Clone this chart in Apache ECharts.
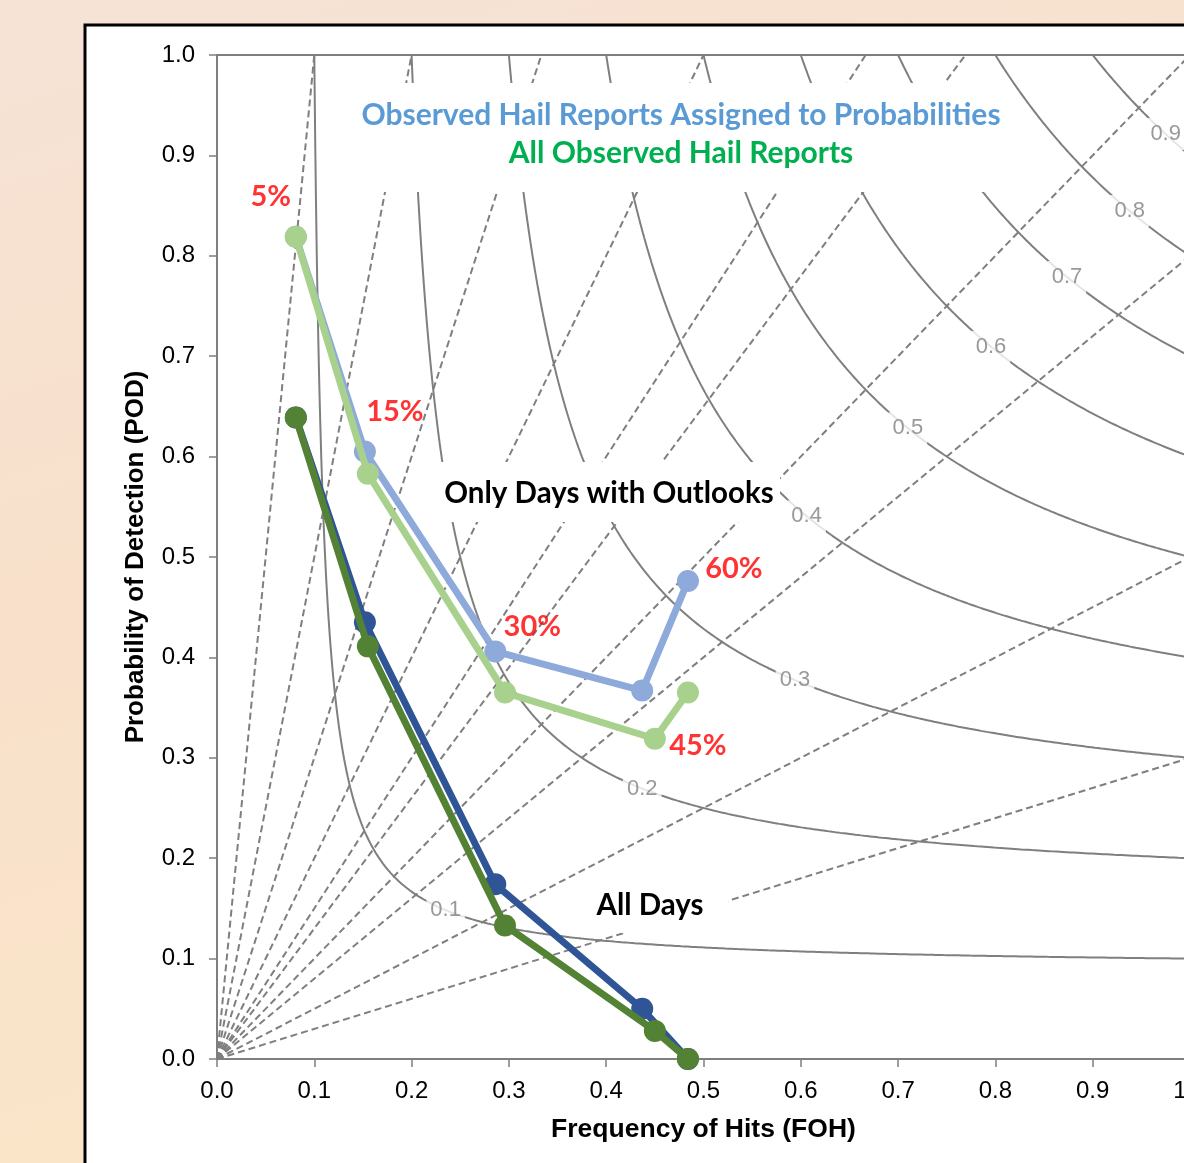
<!DOCTYPE html>
<html><head><meta charset="utf-8">
<script src="https://cdn.jsdelivr.net/npm/echarts@6/dist/echarts.min.js"></script>
<style>html,body{margin:0;padding:0;width:1184px;height:1163px;overflow:hidden}#c{width:1184px;height:1163px}</style>
</head><body><div id="c"></div>
<script>
// ---- data ----
const xTickLabels = ['0.0','0.1','0.2','0.3','0.4','0.5','0.6','0.7','0.8','0.9','1.0'];
const yTickLabels = ['0.0','0.1','0.2','0.3','0.4','0.5','0.6','0.7','0.8','0.9','1.0'];
const probLabels = ['5%','15%','30%','45%','60%'];
// Frequency of hits (x)
const fohAssigned = [0.081, 0.152, 0.286, 0.437, 0.484];
const fohAll      = [0.081, 0.155, 0.296, 0.450, 0.484];
// Probability of detection (y)
const podAssignedOutlook = [0.819, 0.605, 0.406, 0.367, 0.476];
const podAllOutlook      = [0.819, 0.583, 0.365, 0.319, 0.365];
const podAssignedAllDays = [0.639, 0.435, 0.174, 0.050, 0.000];
const podAllAllDays      = [0.639, 0.411, 0.133, 0.028, 0.000];
// background lines of the performance diagram
const csiLevels  = [0.1, 0.2, 0.3, 0.4, 0.5, 0.6, 0.7, 0.8, 0.9];
const csiLabelAt = [0.235, 0.437, 0.594, 0.606, 0.71, 0.7955, 0.8736, 0.938, 0.975];
const biasLevels = [0.3, 0.5, 0.8, 1, 1.3, 1.5, 2, 3, 5, 10];

const GRAY = '#7f7f7f';
const FONT = 'Liberation Sans, Arial, sans-serif';
const CAL = 'Lato, "Open Sans", sans-serif';

const podFromCsi = (c, sr) => 1 / (1 / c + 1 - 1 / sr);
const zip = (xs, ys) => xs.map((x, i) => [x, ys[i]]);

const series = [];
// CSI curves
csiLevels.forEach(c => {
  const pts = [];
  const N = 400;
  for (let i = 0; i <= N; i++) {
    const t = i / N;
    const sr = c + (1 - c) * t * t;
    pts.push([sr, Math.min(1, podFromCsi(c, sr))]);
  }
  series.push({type:'line', data: pts, showSymbol:false, symbol:'none', silent:true, z:1,
    lineStyle:{color:GRAY, width:2}});
});
// bias lines
biasLevels.forEach(b => {
  const end = b >= 1 ? [1 / b, 1] : [1, b];
  series.push({type:'line', data:[[0,0], end], showSymbol:false, symbol:'none', silent:true, z:1,
    lineStyle:{color:GRAY, width:2, type:[7,4]}});
});
// CSI labels
series.push({type:'scatter', z:4, symbolSize:1, itemStyle:{color:'rgba(0,0,0,0)'},
  data: csiLevels.map((c, i) => ({value:[csiLabelAt[i], podFromCsi(c, csiLabelAt[i])], name:String(c)})),
  label:{show:true, position:'inside', formatter: p => p.name, color:GRAY, fontSize:22, fontFamily:FONT,
    backgroundColor:'#ffffff', padding:[5,4]}});
// data series
const mk = (name, xs, ys, color, z) => ({name, type:'line', data: zip(xs, ys), z,
  symbol:'circle', symbolSize:22, lineStyle:{color, width:7}, itemStyle:{color}});
series.push(mk('Assigned (Outlook days)', fohAssigned, podAssignedOutlook, '#8eaadb', 20));
series.push(mk('All reports (Outlook days)', fohAll, podAllOutlook, '#a9d18e', 21));
series.push(mk('Assigned (All days)', fohAssigned, podAssignedAllDays, '#2f5597', 22));
series.push(mk('All reports (All days)', fohAll, podAllAllDays, '#548235', 23));
// probability labels
const pctPts = [
  [fohAll[0], podAllOutlook[0]],
  [fohAssigned[1], podAssignedOutlook[1]],
  [fohAssigned[2], podAssignedOutlook[2]],
  [fohAll[3], podAllOutlook[3]],
  [fohAssigned[4], podAssignedOutlook[4]]
];
const pctOffsets = [[-25,-40],[30,-40],[37,-25],[43,7],[46,-12]];
series.push({type:'scatter', z:30, symbolSize:1, itemStyle:{color:'rgba(0,0,0,0)'},
  data: pctPts.map((p, i) => ({value:p, name:probLabels[i], label:{offset:pctOffsets[i]}})),
  label:{show:true, position:'inside', formatter: p => p.name, color:'#ff0000', fontSize:29,
    fontWeight:'bold', fontFamily:CAL}});

const chart = echarts.init(document.getElementById('c'), null, {renderer:'canvas'});
chart.setOption({
  animation:false,
  backgroundColor:{type:'linear', x:0, y:0, x2:0.3, y2:1, colorStops:[
    {offset:0, color:'#f6e3d6'}, {offset:0.5, color:'#f8e0ca'}, {offset:1, color:'#fbe6c9'}]},
  grid:{left:217, top:55, width:973, height:1004, outerBoundsMode:'none', containLabel:false,
    show:true, borderColor:GRAY, borderWidth:2, backgroundColor:'rgba(0,0,0,0)'},
  xAxis:{type:'value', min:0, max:1, interval:0.1,
    name:'Frequency of Hits (FOH)', nameLocation:'middle', nameGap:57,
    nameTextStyle:{fontFamily:FONT, fontSize:26.5, fontWeight:'bold', color:'#000'},
    axisLine:{show:true, lineStyle:{color:GRAY, width:2}},
    axisTick:{show:true, length:8, lineStyle:{color:GRAY, width:1.5}},
    splitLine:{show:false},
    axisLabel:{formatter: v => xTickLabels[Math.round(v * 10)], color:'#000', fontSize:24, fontFamily:FONT, margin:20, showMaxLabel:true}},
  yAxis:{type:'value', min:0, max:1, interval:0.1,
    name:'Probability of Detection (POD)', nameLocation:'middle', nameGap:68,
    nameTextStyle:{fontFamily:FONT, fontSize:26, fontWeight:'bold', color:'#000'},
    axisLine:{show:true, lineStyle:{color:GRAY, width:2}},
    axisTick:{show:true, length:8, lineStyle:{color:GRAY, width:1.5}},
    splitLine:{show:false},
    axisLabel:{formatter: v => yTickLabels[Math.round(v * 10)], color:'#000', fontSize:24, fontFamily:FONT, margin:22}},
  graphic:{elements:[
    {type:'rect', z:-5, shape:{x:85, y:25, width:1200, height:1200}, style:{fill:'#ffffff', stroke:'#000', lineWidth:3}},
    {type:'rect', z:10, shape:{x:350, y:83, width:655, height:109}, style:{fill:'#ffffff'}},
    {type:'text', z:11, x:681, y:115, style:{text:'Observed Hail Reports Assigned to Probabilities', fill:'#5b9bd5',
      font:'bold 30px Lato, sans-serif', textAlign:'center', textVerticalAlign:'middle'}},
    {type:'text', z:11, x:681, y:153, style:{text:'All Observed Hail Reports', fill:'#00b050',
      font:'bold 30px Lato, sans-serif', textAlign:'center', textVerticalAlign:'middle'}},
    {type:'rect', z:10, shape:{x:432, y:462, width:348, height:60}, style:{fill:'#ffffff'}},
    {type:'text', z:11, x:609, y:493, style:{text:'Only Days with Outlooks', fill:'#000',
      font:'bold 29.5px Lato, sans-serif', textAlign:'center', textVerticalAlign:'middle'}},
    {type:'rect', z:10, shape:{x:585, y:878, width:143, height:55}, style:{fill:'#ffffff'}},
    {type:'text', z:11, x:650, y:905, style:{text:'All Days', fill:'#000',
      font:'bold 29.5px Lato, sans-serif', textAlign:'center', textVerticalAlign:'middle'}}
  ]},
  series
});
</script></body></html>
